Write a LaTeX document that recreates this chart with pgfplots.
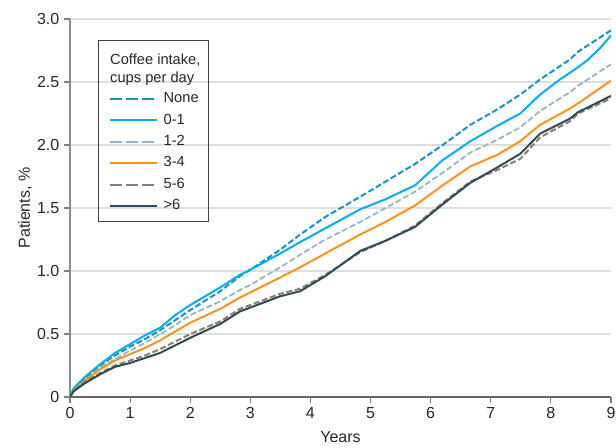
\documentclass[border=0pt]{standalone}
\usepackage{pgfplots}
\pgfplotsset{compat=1.18}
\usepackage{fontspec}
\setmainfont{Liberation Sans}
\definecolor{cNone}{HTML}{1A8FD0}
\definecolor{cOne}{HTML}{00ADEE}
\definecolor{cTwo}{HTML}{93B3C2}
\definecolor{cFour}{HTML}{F7941D}
\definecolor{cSix}{HTML}{8B7D74}
\definecolor{cMore}{HTML}{2C4C59}
\begin{document}
\begin{tikzpicture}
\begin{axis}[
  scale only axis,
  width=405.75pt, height=283.5pt,
  xmin=0, xmax=9, ymin=0, ymax=3,
  axis lines*=left,
  x axis line style={black!60, line width=0.8pt},
  y axis line style={black!45, line width=0.8pt},
  xtick={0,1,...,9},
  ytick={0,0.5,1,1.5,2,2.5,3},
  yticklabels={0,0.5,1.0,1.5,2.0,2.5,3.0},
  tick align=outside,
  major tick length=4.5pt,
  tick style={black!50, line width=0.8pt},
  ymajorgrids,
  grid style={draw=black!13, line width=0.8pt},
  /pgf/number format/assume math mode=true,
  ticklabel style={font=\fontsize{12}{14}\selectfont, text=black!85},
  xlabel={Years}, ylabel={Patients, \%},
  label style={font=\fontsize{12}{14}\selectfont, text=black!85},
  xlabel style={at={(axis description cs:0.5,0)}, anchor=base, yshift=-34pt},
  ylabel style={at={(axis description cs:-0.0832,0.5)}, anchor=center},
  legend image code/.code={\draw[#1] (0pt,0pt) -- (35pt,0pt);},
  legend style={at={(axis description cs:0.072,0.809)}, anchor=north west,
    draw=none, fill=none, inner sep=0pt, outer sep=0pt,
    row sep=4.6pt, column sep=4pt,
    font=\fontsize{11}{13}\selectfont,
    nodes={inner sep=0.5pt, text height=8pt, text depth=2.5pt, text=black!85}},
  legend cell align=left,
]
% None
\addplot[cNone, line width=1.5pt, dash pattern=on 4.5pt off 2pt, forget plot] coordinates {
(0,0) (0.05,0.05) (0.1,0.08) (0.25,0.15) (0.5,0.25) (0.75,0.33) (1,0.40) (1.25,0.46) (1.5,0.53) (1.75,0.61) (2,0.69) (2.5,0.84) (2.83,0.96) (3,1.01) (3.5,1.17) (3.83,1.29) (4.25,1.43) (4.83,1.59) (5.25,1.71) (5.74,1.85) (6.2,2.00) (6.66,2.16) (7.1,2.28) (7.49,2.40) (7.82,2.52) (8.32,2.68) (8.45,2.74) (9,2.91)};
% 0-1
\addplot[cOne, line width=1.5pt, forget plot] coordinates {
(0,0) (0.05,0.06) (0.1,0.09) (0.25,0.16) (0.5,0.26) (0.75,0.35) (1,0.42) (1.25,0.49) (1.5,0.55) (1.75,0.65) (2,0.73) (2.5,0.87) (2.83,0.97) (3,1.01) (3.5,1.14) (3.83,1.23) (4.25,1.34) (4.83,1.49) (5.25,1.57) (5.74,1.68) (6.2,1.88) (6.66,2.03) (7.1,2.15) (7.49,2.25) (7.82,2.40) (8.15,2.52) (8.37,2.59) (8.6,2.67) (8.82,2.77) (9,2.87)};
% 1-2
\addplot[cTwo, line width=1.3pt, dash pattern=on 4.5pt off 2pt, forget plot] coordinates {
(0,0) (0.05,0.05) (0.1,0.07) (0.25,0.13) (0.5,0.23) (0.75,0.30) (1,0.37) (1.25,0.43) (1.5,0.50) (1.75,0.57) (2,0.65) (2.5,0.76) (2.83,0.85) (3,0.89) (3.5,1.03) (3.83,1.13) (4.25,1.25) (4.83,1.39) (5.25,1.50) (5.74,1.63) (6.2,1.78) (6.66,1.94) (7.1,2.04) (7.49,2.14) (7.82,2.27) (8.32,2.42) (8.45,2.47) (9,2.64)};
% 3-4
\addplot[cFour, line width=1.5pt, forget plot] coordinates {
(0,0) (0.05,0.04) (0.1,0.07) (0.25,0.13) (0.5,0.22) (0.75,0.29) (1,0.34) (1.25,0.39) (1.5,0.45) (1.75,0.52) (2,0.59) (2.5,0.70) (2.83,0.79) (3,0.83) (3.5,0.95) (3.83,1.03) (4.25,1.14) (4.83,1.29) (5.25,1.39) (5.74,1.52) (6.2,1.68) (6.66,1.83) (7.1,1.92) (7.49,2.03) (7.82,2.16) (8.32,2.29) (8.45,2.33) (9,2.51)};
% 5-6
\addplot[cSix, line width=1.5pt, dash pattern=on 4.5pt off 2pt, forget plot] coordinates {
(0,0) (0.05,0.04) (0.1,0.06) (0.25,0.12) (0.5,0.19) (0.75,0.25) (1,0.29) (1.25,0.33) (1.5,0.38) (1.75,0.44) (2,0.50) (2.5,0.60) (2.83,0.70) (3,0.73) (3.5,0.82) (3.83,0.86) (4.25,0.97) (4.83,1.15) (5.25,1.24) (5.74,1.36) (6.2,1.54) (6.66,1.71) (7.1,1.80) (7.49,1.89) (7.82,2.06) (8.32,2.19) (8.45,2.25) (9,2.37)};
% >6
\addplot[cMore, line width=1.5pt, forget plot] coordinates {
(0,0) (0.05,0.04) (0.1,0.06) (0.25,0.11) (0.5,0.18) (0.75,0.24) (1,0.27) (1.25,0.31) (1.5,0.35) (1.75,0.41) (2,0.47) (2.5,0.58) (2.83,0.68) (3,0.71) (3.5,0.80) (3.83,0.84) (4.25,0.96) (4.83,1.16) (5.25,1.24) (5.74,1.35) (6.2,1.53) (6.66,1.70) (7.1,1.82) (7.49,1.93) (7.82,2.09) (8.32,2.21) (8.45,2.26) (9,2.39)};
\addlegendimage{cNone, line width=1.5pt, dash pattern=on 9pt off 3pt}
\addlegendentry{None}
\addlegendimage{cOne, line width=1.5pt}
\addlegendentry{0-1}
\addlegendimage{cTwo, line width=1.5pt, dash pattern=on 9pt off 3pt}
\addlegendentry{1-2}
\addlegendimage{cFour, line width=1.5pt}
\addlegendentry{3-4}
\addlegendimage{cSix, line width=1.5pt, dash pattern=on 9pt off 3pt}
\addlegendentry{5-6}
\addlegendimage{cMore, line width=1.5pt}
\addlegendentry{>6}
\draw[black!75, line width=0.7pt] (axis description cs:0.0523,0.4638) rectangle (axis description cs:0.2556,0.942);
\node[anchor=base west, align=left, inner sep=0pt, font=\fontsize{11}{13.5}\selectfont, text=black!85] at (axis description cs:0.0739,0.833) {Coffee intake,\\cups per day};
\end{axis}
\pgfresetboundingbox
\path ([xshift=-52.5pt,yshift=-37.5pt]current axis.south west) rectangle ([xshift=3.75pt,yshift=14.25pt]current axis.north east);
\end{tikzpicture}
\end{document}
